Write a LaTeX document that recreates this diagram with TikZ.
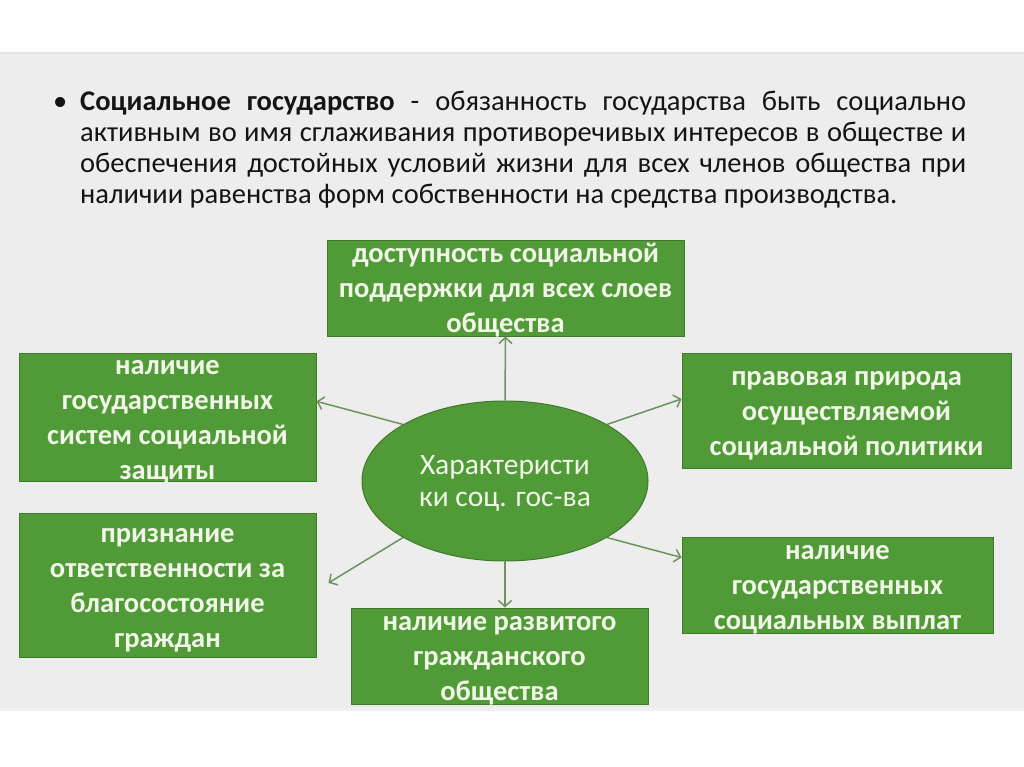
\documentclass[tikz,border=0pt]{standalone}
\usepackage{fontspec}
\setmainfont{Carlito}
\usetikzlibrary{shapes.geometric, arrows.meta}

\definecolor{panelgray}{RGB}{237,237,237}
\definecolor{boxgreen}{RGB}{80,155,55}
\definecolor{boxedge}{RGB}{62,122,42}
\definecolor{boxtext}{RGB}{242,246,232}
\definecolor{arrowgreen}{RGB}{108,148,92}

% struts that set where the text block sits in its box
\newcommand{\upstrut}{\rule{0pt}{24pt}}
\newcommand{\downstrut}{\rule[-5pt]{0pt}{5pt}}

\begin{document}
\begin{tikzpicture}[x=1pt,y=-1pt,
  featbox/.style={rectangle, draw=boxedge, line width=1pt, fill=boxgreen, text=boxtext,
    inner xsep=0pt, inner ysep=-4pt, align=center, font=\fontsize{28.5}{35}\selectfont\bfseries},
  centreoval/.style={ellipse, draw=boxedge, line width=1pt, fill=boxgreen, text=boxtext,
    inner sep=0pt, minimum width=286pt, minimum height=160pt, align=center,
    font=\fontsize{29.5}{32}\selectfont},
  featarrow/.style={draw=arrowgreen, line width=1.5pt, -{Straight Barb[length=6pt,width=13pt]}}]
\useasboundingbox (0,0) rectangle (1024,767);
\fill[white] (0,0) rectangle (1024,767);
\fill[panelgray] (0,52) rectangle (1024,708);
\draw[black!10, line width=2pt] (0,53) -- (1024,53);
\draw[black!6, line width=3pt] (0,709) -- (1024,709);

% definition
\node[anchor=north west, inner sep=0pt, text width=886pt, align=justify,
  font=\fontsize{28.5}{31}\selectfont, text=black!92] (defn) at (80,91)
  {\llap{•\hspace{13pt}}\textbf{Социальное государство} - обязанность государства быть социально\linebreak
   активным во имя сглаживания противоречивых интересов в обществе и\linebreak
   обеспечения достойных условий жизни для всех членов общества при\linebreak
   наличии равенства форм собственности на средства производства.};

% centre and boxes
\node[centreoval] (oval) at (505,481) {\upstrut Характеристи\\ки соц. гос-ва\downstrut};
\node[featbox, minimum width=357pt, minimum height=96pt] (dost) at (505.5,288)
  {\upstrut доступность социальной\\поддержки для всех слоев\\общества\downstrut};
\node[featbox, minimum width=297pt, minimum height=128pt] (sistem) at (167.5,417)
  {\upstrut наличие\\государственных\\систем социальной\\защиты\downstrut};
\node[featbox, minimum width=297pt, minimum height=144pt] (priz) at (167.5,585)
  {\upstrut признание\\ответственности за\\благосостояние\\граждан\downstrut};
\node[featbox, minimum width=329pt, minimum height=115pt] (pravo) at (846.5,410.5)
  {\upstrut правовая природа\\осуществляемой\\социальной политики\downstrut};
\node[featbox, minimum width=311pt, minimum height=96pt] (vyplat) at (837.5,585)
  {\upstrut наличие\\государственных\\социальных выплат\downstrut};
\node[featbox, minimum width=297pt, minimum height=96pt] (obsh) at (499.5,656)
  {\upstrut наличие развитого\\гражданского\\общества\downstrut};

% arrows
\draw[featarrow] (oval.north) -- (dost.south);
\draw[featarrow] (oval.151) -- (sistem.6.5);
\draw[featarrow] (oval.29.6) -- (pravo.176.3);
\draw[featarrow, shorten >=14pt] (oval.209) -- (priz.-2.5);
\draw[featarrow] (oval.-29) -- (vyplat.170.9);
\draw[featarrow] (oval.south) -- (oval.south |- obsh.north);
\end{tikzpicture}
\end{document}
